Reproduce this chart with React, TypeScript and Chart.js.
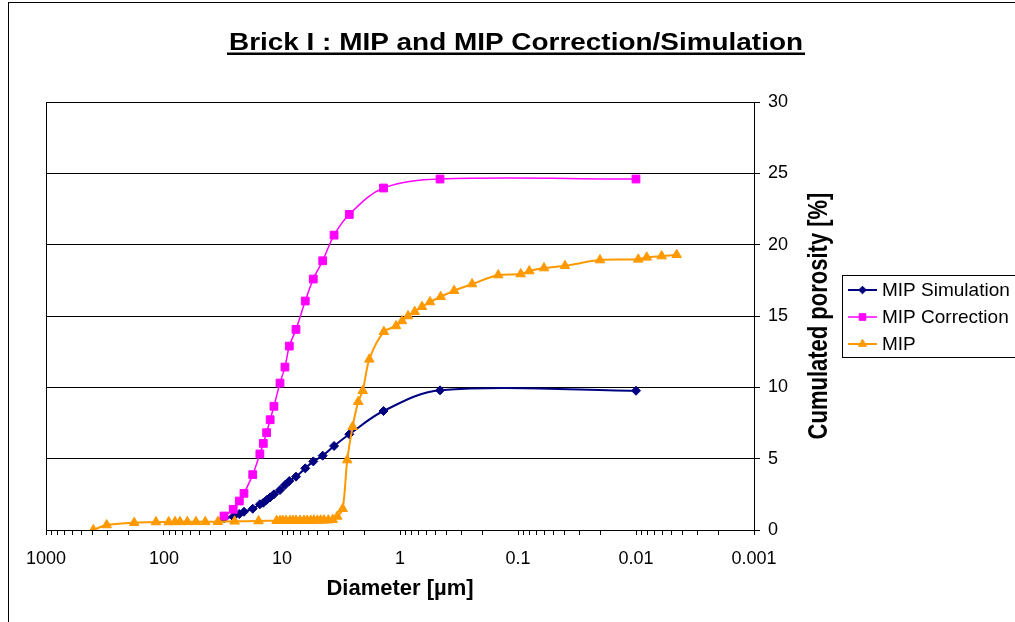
import { useEffect, useRef } from 'react';
import { Chart, registerables } from 'chart.js';
import { drawPoint } from 'chart.js/helpers';

Chart.register(...registerables);

// ---------- text ----------
const chartTitle = 'Brick I : MIP and MIP Correction/Simulation';
const xAxisTitle = 'Diameter [µm]';
const yAxisTitle = 'Cumulated porosity [%]';

// ---------- axes ----------
const xDecades = [1000, 100, 10, 1, 0.1, 0.01, 0.001];
const xTickLabels = ['1000', '100', '10', '1', '0.1', '0.01', '0.001'];
const xMinorSteps = [2, 3, 4, 5, 6, 7, 8, 9];
const yMin = 0;
const yMax = 30;
const yStep = 5;

// ---------- series ----------
const seriesNames = ['MIP Simulation', 'MIP Correction', 'MIP'];

// diameters shared by simulation and correction [µm]
const corrDiameter = [31.0, 25.9, 23.0, 21.0, 17.7, 15.4, 14.4, 13.5, 12.6, 11.7, 10.4, 9.44, 8.67, 7.61, 6.35, 5.43, 4.52, 3.62, 2.69, 1.38, 0.458, 0.01];
const simPorosity = [0.82, 0.93, 1.12, 1.28, 1.49, 1.80, 1.91, 2.10, 2.29, 2.50, 2.80, 3.15, 3.43, 3.74, 4.32, 4.81, 5.21, 5.89, 6.71, 8.34, 9.79, 9.76];
const corrPorosity = [0.98, 1.45, 2.03, 2.57, 3.88, 5.33, 6.07, 6.82, 7.73, 8.67, 10.3, 11.42, 12.89, 14.06, 16.05, 17.59, 18.87, 20.67, 22.12, 23.97, 24.6, 24.6];

const mipDiameter = [397, 306, 179, 117, 91.3, 80.7, 73.2, 63.5, 53.6, 44.7, 34.9, 25.2, 15.8, 11.1, 10.4, 9.86, 9.25, 8.55, 8.07, 7.61, 7.04, 6.51, 6.11, 5.71, 5.36, 5.02, 4.70, 4.41, 4.05, 3.72, 3.40, 3.06, 2.80, 2.52, 2.26, 2.07, 1.82, 1.37, 1.08, 0.962, 0.855, 0.750, 0.651, 0.557, 0.452, 0.348, 0.245, 0.147, 0.0948, 0.0802, 0.0602, 0.040, 0.0202, 0.00957, 0.00811, 0.00606, 0.00452];
const mipPorosity = [0, 0.35, 0.51, 0.56, 0.56, 0.57, 0.57, 0.57, 0.57, 0.57, 0.58, 0.61, 0.63, 0.65, 0.65, 0.66, 0.66, 0.66, 0.66, 0.67, 0.67, 0.67, 0.67, 0.67, 0.68, 0.68, 0.68, 0.69, 0.69, 0.72, 0.95, 1.49, 4.9, 7.24, 8.99, 9.76, 11.96, 13.9, 14.3, 14.65, 15.0, 15.3, 15.65, 15.98, 16.35, 16.77, 17.24, 17.87, 17.94, 18.15, 18.36, 18.52, 18.92, 18.97, 19.11, 19.2, 19.29];

const FONT = '"Liberation Sans", Arial, Helvetica, sans-serif';

const pairs = (xs: number[], ys: number[]) => xs.map((x, i) => ({ x, y: ys[i] }));

const isDecade = (v: number) => Math.abs(Math.log10(v) - Math.round(Math.log10(v))) < 1e-6;

const decorPlugin = {
  id: 'decor',
  beforeDraw(chart: any) {
    const ctx = chart.ctx;
    ctx.save();
    ctx.fillStyle = '#fff';
    ctx.fillRect(0, 0, chart.width, chart.height);
    ctx.restore();
  },
  afterDraw(chart: any) {
    const ctx = chart.ctx as CanvasRenderingContext2D;
    const a = chart.chartArea;
    ctx.save();
    // plot area border
    ctx.strokeStyle = '#000';
    ctx.lineWidth = 1;
    ctx.strokeRect(Math.round(a.left) + 0.5, Math.round(a.top) + 0.5, Math.round(a.right - a.left), Math.round(a.bottom - a.top));

    // title (stretched, underlined)
    ctx.fillStyle = '#000';
    ctx.font = `bold 23px ${FONT}`;
    const tw = ctx.measureText(chartTitle).width;
    const targetW = 574;
    const cx = 516;
    ctx.save();
    ctx.translate(cx, 50);
    ctx.scale(targetW / tw, 1);
    ctx.textAlign = 'center';
    ctx.textBaseline = 'alphabetic';
    ctx.fillText(chartTitle, 0, 0);
    ctx.restore();
    ctx.fillRect(cx - targetW / 2 - 2, 52.5, targetW + 4, 2.5);

    // x axis title
    ctx.font = `bold 22px ${FONT}`;
    ctx.textAlign = 'center';
    ctx.textBaseline = 'alphabetic';
    ctx.fillText(xAxisTitle, (a.left + a.right) / 2, 595);

    // y axis title (reads bottom to top)
    ctx.save();
    ctx.translate(827, (a.top + a.bottom) / 2);
    ctx.scale(1.25, 1);
    ctx.rotate(-Math.PI / 2);
    ctx.font = `bold 22px ${FONT}`;
    ctx.textAlign = 'center';
    ctx.textBaseline = 'alphabetic';
    ctx.fillText(yAxisTitle, 0, 0);
    ctx.restore();

    // legend
    const lx = 842.5, ly = 275.5, lh = 82;
    ctx.strokeStyle = '#000';
    ctx.lineWidth = 1;
    ctx.strokeRect(lx, ly, 300, lh);
    const rows = [290, 317, 344];
    chart.data.datasets.forEach((ds: any, i: number) => {
      const y = rows[i];
      ctx.strokeStyle = ds.borderColor;
      ctx.lineWidth = ds.borderWidth;
      ctx.beginPath();
      ctx.moveTo(848, y);
      ctx.lineTo(877, y);
      ctx.stroke();
      ctx.fillStyle = ds.pointBackgroundColor;
      ctx.strokeStyle = ds.pointBorderColor;
      ctx.lineWidth = ds.pointBorderWidth;
      drawPoint(ctx, { pointStyle: ds.pointStyle, radius: ds.pointRadius * 0.85, rotation: 0, borderWidth: ds.pointBorderWidth } as any, 862.5, y);
      ctx.fillStyle = '#000';
      ctx.font = `19px ${FONT}`;
      ctx.textAlign = 'left';
      ctx.textBaseline = 'middle';
      ctx.fillText(ds.label, 882, y + 1);
    });
    ctx.restore();
  },
};

export default function App() {
  const ref = useRef<HTMLCanvasElement | null>(null);

  useEffect(() => {
    if (!ref.current) return;
    const chart = new Chart(ref.current, {
      type: 'scatter',
      data: {
        datasets: [
          {
            label: seriesNames[0],
            data: pairs(corrDiameter, simPorosity),
            showLine: true,
            borderColor: '#000080',
            backgroundColor: '#000080',
            borderWidth: 2,
            tension: 0.35,
            pointStyle: 'rectRot',
            pointRadius: 4.5,
            pointBorderWidth: 1,
            pointBackgroundColor: '#000080',
            pointBorderColor: '#000080',
            order: 2,
          },
          {
            label: seriesNames[1],
            data: pairs(corrDiameter, corrPorosity),
            showLine: true,
            borderColor: '#FF00FF',
            backgroundColor: '#FF00FF',
            borderWidth: 1.5,
            tension: 0.35,
            pointStyle: 'rect',
            pointRadius: 5.5,
            pointBorderWidth: 1,
            pointBackgroundColor: '#FF00FF',
            pointBorderColor: '#FF00FF',
            order: 1,
          },
          {
            label: seriesNames[2],
            data: pairs(mipDiameter, mipPorosity),
            showLine: true,
            borderColor: '#FF9900',
            backgroundColor: '#FF9900',
            borderWidth: 2,
            tension: 0.3,
            pointStyle: 'triangle',
            pointRadius: 5.5,
            pointBorderWidth: 1,
            pointBackgroundColor: '#FF9900',
            pointBorderColor: '#FF9900',
            order: 0,
          },
        ] as any,
      },
      options: {
        animation: false,
        responsive: false,
        devicePixelRatio: 1,
        layout: { padding: { left: 46, top: 102, right: 0, bottom: 0 } },
        plugins: {
          legend: { display: false },
          title: { display: false },
          tooltip: { enabled: false },
        },
        scales: {
          x: {
            type: 'logarithmic',
            reverse: true,
            min: 0.001,
            max: 1000,
            afterFit: (s: any) => { s.height = 92; },
            afterBuildTicks: (s: any) => {
              const ticks: any[] = [];
              xDecades.forEach((d) => {
                ticks.push({ value: d, major: true });
                if (d < 1000) xMinorSteps.forEach((m) => ticks.push({ value: d * m, major: false }));
              });
              ticks.sort((p, q) => p.value - q.value);
              s.ticks = ticks;
            },
            ticks: {
              autoSkip: false,
              maxRotation: 0,
              minRotation: 0,
              padding: 13,
              color: '#000',
              font: { family: FONT, size: 18 },
              callback: (v: any) => {
                const val = Number(v);
                if (!isDecade(val)) return '';
                const idx = xDecades.findIndex((d) => Math.abs(Math.log10(d) - Math.log10(val)) < 1e-6);
                return idx >= 0 ? xTickLabels[idx] : '';
              },
            },
            grid: {
              display: true,
              drawOnChartArea: false,
              drawTicks: true,
              tickLength: 5,
              color: '#000',
              tickColor: '#000',
            },
            border: { display: true, color: '#000', width: 1 },
            title: { display: false },
          },
          y: {
            type: 'linear',
            position: 'right',
            min: yMin,
            max: yMax,
            afterFit: (s: any) => { s.width = 261; },
            ticks: {
              stepSize: yStep,
              padding: 8,
              color: '#000',
              font: { family: FONT, size: 18 },
            },
            grid: {
              color: '#000',
              tickColor: '#000',
              tickLength: 6,
              drawTicks: true,
            },
            border: { display: true, color: '#000', width: 1 },
            title: { display: false },
          },
        },
      } as any,
      plugins: [decorPlugin],
    });
    return () => chart.destroy();
  }, []);

  return (
    <div style={{ position: 'fixed', left: 0, top: 0, width: 1015, height: 622, overflow: 'hidden', background: '#fff' }}>
      <canvas ref={ref} width={1015} height={622} style={{ position: 'absolute', left: 0, top: 0, width: 1015, height: 622, display: 'block' }} />
      <div style={{ position: 'absolute', left: 8, top: 2, width: 1200, height: 800, border: '1px solid #000', pointerEvents: 'none' }} />
    </div>
  );
}
